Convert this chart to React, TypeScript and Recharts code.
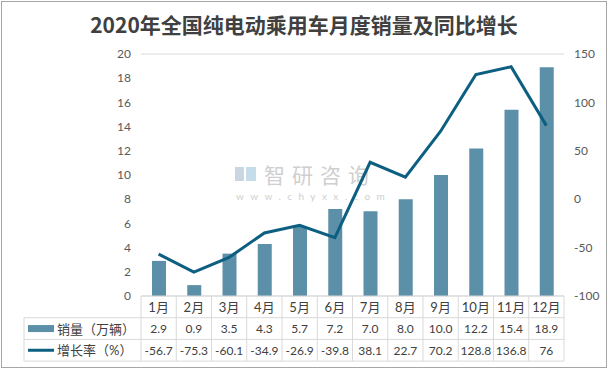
import { ComposedChart, Bar, Line, XAxis, YAxis, CartesianGrid } from "recharts";

const months = ["1月", "2月", "3月", "4月", "5月", "6月", "7月", "8月", "9月", "10月", "11月", "12月"];
const sales = [2.9, 0.9, 3.5, 4.3, 5.7, 7.2, 7.0, 8.0, 10.0, 12.2, 15.4, 18.9];
const growth = [-56.7, -75.3, -60.1, -34.9, -26.9, -39.8, 38.1, 22.7, 70.2, 128.8, 136.8, 76];
const salesLabels = ["2.9", "0.9", "3.5", "4.3", "5.7", "7.2", "7.0", "8.0", "10.0", "12.2", "15.4", "18.9"];
const growthLabels = ["-56.7", "-75.3", "-60.1", "-34.9", "-26.9", "-39.8", "38.1", "22.7", "70.2", "128.8", "136.8", "76"];
const leftTicks = [0, 2, 4, 6, 8, 10, 12, 14, 16, 18, 20];
const rightTicks = [-100, -50, 0, 50, 100, 150];

const TITLE = "2020年全国纯电动乘用车月度销量及同比增长";
const SALES_NAME = "销量（万辆）";
const GROWTH_NAME = "增长率（%）";

const data = months.map((m, i) => ({ month: m, sales: sales[i], growth: growth[i] }));

const W = 608;
const H = 370;
const LEFT_W = 141;
const RIGHT_W = 44;
const TOP = 54;
const XAXIS_H = 74;
const CELL_W = (W - LEFT_W - RIGHT_W) / months.length;
const TABLE_LEFT = 24;
const ROW_H = 21.7;

const BAR_COLOR = "#5b90a8";
const LINE_COLOR = "#0c5f80";
const GRID = "#d9d9d9";
const TEXT = "#404040";
const FONT = "Lato, 'Noto Sans CJK SC', sans-serif";

const TableTick = (props: any) => {
  const { x, y, index } = props;
  const l = x - CELL_W / 2;
  const r = x + CELL_W / 2;
  const bottom = y + ROW_H * 3;
  return (
    <g fontFamily={FONT} fontSize={12} fill={TEXT}>
      {index === 0 && (
        <g>
          <line x1={l} y1={y} x2={l} y2={bottom} stroke={GRID} />
          <line x1={TABLE_LEFT} y1={y + ROW_H} x2={l} y2={y + ROW_H} stroke={GRID} />
          <line x1={TABLE_LEFT} y1={y + ROW_H * 2} x2={l} y2={y + ROW_H * 2} stroke={GRID} />
          <line x1={TABLE_LEFT} y1={bottom} x2={l} y2={bottom} stroke={GRID} />
          <line x1={TABLE_LEFT} y1={y + ROW_H} x2={TABLE_LEFT} y2={bottom} stroke={GRID} />
          <rect x={28} y={y + ROW_H * 1.5 - 3.5} width={26} height={7} fill={BAR_COLOR} />
          <line x1={28} y1={y + ROW_H * 2.5} x2={54} y2={y + ROW_H * 2.5} stroke={LINE_COLOR} strokeWidth={3} />
          <text x={57} y={y + ROW_H * 1.5} dominantBaseline="central" fontSize={13}>
            {SALES_NAME}
          </text>
          <text x={57} y={y + ROW_H * 2.5} dominantBaseline="central" fontSize={13}>
            {GROWTH_NAME}
          </text>
        </g>
      )}
      <line x1={r} y1={y} x2={r} y2={bottom} stroke={GRID} />
      <line x1={l} y1={y + ROW_H} x2={r} y2={y + ROW_H} stroke={GRID} />
      <line x1={l} y1={y + ROW_H * 2} x2={r} y2={y + ROW_H * 2} stroke={GRID} />
      <line x1={l} y1={bottom} x2={r} y2={bottom} stroke={GRID} />
      <text x={x} y={y + ROW_H * 0.5} textAnchor="middle" dominantBaseline="central" fontSize={13}>
        {months[index]}
      </text>
      <text x={x} y={y + ROW_H * 1.5} textAnchor="middle" dominantBaseline="central">
        {salesLabels[index]}
      </text>
      <text x={x} y={y + ROW_H * 2.5} textAnchor="middle" dominantBaseline="central">
        {growthLabels[index]}
      </text>
    </g>
  );
};

export default function App() {
  return (
    <div
      style={{
        position: "absolute",
        left: 0,
        top: 0,
        width: W,
        height: H,
        background: "#fff",
        fontFamily: FONT,
      }}
    >
      <div
        style={{
          position: "absolute",
          left: 1,
          top: 1,
          width: W - 4,
          height: H - 5,
          border: "1px solid #a6a6a6",
        }}
      />
      <div
        style={{
          position: "absolute",
          left: 0,
          top: 9,
          width: W,
          textAlign: "center",
          fontSize: 21,
          fontWeight: "bold",
          color: TEXT,
          fontFamily: "'Noto Sans CJK SC', sans-serif",
          lineHeight: "30px",
        }}
      >
        {TITLE}
      </div>
      {/* watermark */}
      <div style={{ position: "absolute", left: 235, top: 167, width: 21, height: 14 }}>
        <div style={{ position: "absolute", left: 0, top: 0, width: 9, height: 14, background: "#c9d6e2" }} />
        <div style={{ position: "absolute", left: 11, top: 0, width: 10, height: 14, background: "#c7dcea" }} />
      </div>
      <div
        style={{
          position: "absolute",
          left: 264,
          top: 160,
          fontSize: 21,
          letterSpacing: 7,
          color: "#cfcfcf",
          fontFamily: "'Noto Sans CJK SC', sans-serif",
          lineHeight: "28px",
        }}
      >
        智研咨询
      </div>
      <div
        style={{
          position: "absolute",
          left: 236,
          top: 189,
          fontSize: 10,
          letterSpacing: 6.4,
          color: "#cfcfcf",
          lineHeight: "14px",
        }}
      >
        www.chyxx.com
      </div>
      <div style={{ position: "absolute", left: 0, top: 0 }}>
        <ComposedChart
          width={W}
          height={H}
          data={data}
          margin={{ top: TOP, right: 0, bottom: 0, left: 0 }}
        >
          <CartesianGrid vertical={false} stroke={GRID} />
          <XAxis
            dataKey="month"
            height={XAXIS_H}
            axisLine={{ stroke: GRID }}
            tickLine={false}
            tickSize={0}
            tickMargin={0}
            interval={0}
            tick={<TableTick />}
          />
          <YAxis
            yAxisId="left"
            width={LEFT_W}
            domain={[0, 20]}
            ticks={leftTicks}
            axisLine={false}
            tickLine={false}
            tickMargin={4}
            tick={{ fill: "#595959", fontSize: 12, fontFamily: FONT }}
          />
          <YAxis
            yAxisId="right"
            orientation="right"
            width={RIGHT_W}
            domain={[-100, 150]}
            ticks={rightTicks}
            axisLine={false}
            tickLine={false}
            tickMargin={4}
            tick={{ fill: "#595959", fontSize: 12, fontFamily: FONT, textAnchor: "start" }}
          />
          <Bar yAxisId="left" dataKey="sales" fill={BAR_COLOR} barSize={14} isAnimationActive={false} />
          <Line
            yAxisId="right"
            dataKey="growth"
            stroke={LINE_COLOR}
            strokeWidth={3}
            dot={false}
            type="linear"
            isAnimationActive={false}
          />
        </ComposedChart>
      </div>
    </div>
  );
}
